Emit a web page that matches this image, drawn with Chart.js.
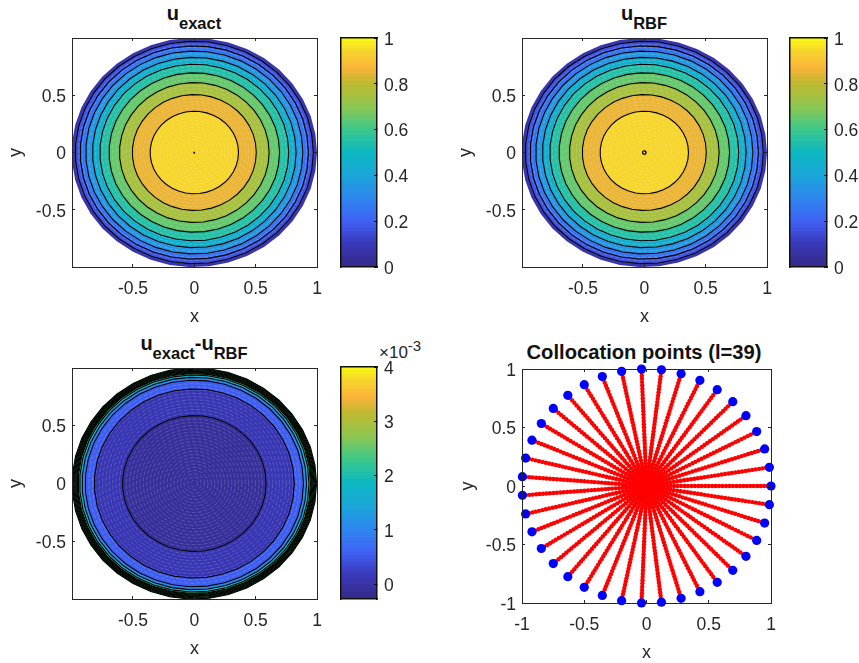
<!DOCTYPE html>
<html>
<head>
<meta charset="utf-8">
<style>
  html, body { margin: 0; padding: 0; background: #fff; }
  body { width: 859px; height: 663px; position: relative; overflow: hidden; font-family: "Liberation Sans", sans-serif; color: #111; }
  canvas { position: absolute; }
  .title { position: absolute; font-weight: bold; font-size: 20px; line-height: 24px; transform: translateX(-50%); white-space: nowrap; }
  .title sub { font-size: 16.5px; vertical-align: -9px; line-height: 0; }
  .exponent { position: absolute; font-size: 17px; line-height: 20px; color: #262626; white-space: nowrap; }
  .exponent sup { font-size: 15px; vertical-align: 7px; line-height: 0; }
</style>
<script src="https://cdn.jsdelivr.net/npm/chart.js@4"></script>
</head>
<body>
<div class="title" style="left:194px;top:1px">u<sub>exact</sub></div>
<div class="title" style="left:644px;top:1px">u<sub>RBF</sub></div>
<div class="title" style="left:194px;top:331px">u<sub>exact</sub>-u<sub>RBF</sub></div>
<div class="title" style="left:644px;top:340px;font-size:20.2px">Collocation points (l=39)</div>
<div class="exponent" style="left:379px;top:343px">×10<sup>-3</sup></div>
<script>
// 39 boundary collocation points, also the outline every contour follows
const boundaryX = [1, 0.987, 0.949, 0.885, 0.799, 0.693, 0.568, 0.429, 0.278, 0.120, -0.040, -0.200, -0.355, -0.5, -0.632, -0.749, -0.845, -0.920, -0.971, -0.997,
  -0.997, -0.971, -0.920, -0.845, -0.749, -0.632, -0.5, -0.355, -0.200, -0.040, 0.120, 0.278, 0.429, 0.568, 0.693, 0.799, 0.885, 0.949, 0.987];
const boundaryY = [0, 0.160, 0.317, 0.465, 0.601, 0.721, 0.823, 0.903, 0.960, 0.993, 0.999, 0.980, 0.935, 0.866, 0.775, 0.663, 0.534, 0.392, 0.239, 0.080,
  -0.080, -0.239, -0.392, -0.534, -0.663, -0.775, -0.866, -0.935, -0.980, -0.999, -0.993, -0.960, -0.903, -0.823, -0.721, -0.601, -0.465, -0.317, -0.160];

// interior nodes along each ray, as a fraction of the radius
const gridRadii = [0.028, 0.056, 0.083, 0.111, 0.139, 0.167, 0.194, 0.222, 0.25, 0.278, 0.306, 0.333, 0.361, 0.389, 0.417, 0.444, 0.472, 0.5,
  0.528, 0.556, 0.583, 0.611, 0.639, 0.667, 0.694, 0.722, 0.75, 0.778, 0.806, 0.833, 0.861, 0.889, 0.917, 0.944, 0.972];

// contour radii, read along the +x axis
const exactRadii = [0.004, 0.36, 0.505, 0.61, 0.695, 0.77, 0.83, 0.885, 0.93, 0.97];
const rbfRadii = [0.015, 0.36, 0.505, 0.61, 0.695, 0.77, 0.83, 0.885, 0.93, 0.97];
const errorRadii = [0.585, 0.815, 0.89, 0.915, 0.935, 0.947, 0.954, 0.961, 0.968, 0.975, 0.982, 0.989, 0.996];

// colour value of the band inside each contour; the last one reaches the boundary
const exactBands = [0.94, 0.94, 0.85, 0.75, 0.65, 0.55, 0.45, 0.35, 0.25, 0.17, 0.08];
const rbfBands = [0.94, 0.94, 0.85, 0.75, 0.65, 0.55, 0.45, 0.35, 0.25, 0.17, 0.08];
const errorBands = [-0.1, 0.11, 0.54, 1.01, 1.65, 2.5, 2.5, 2.5, 2.5, 2.5, 2.5, 2.5, 2.5, 2.5];

const xTicksFull = [-0.5, 0, 0.5, 1];
const yTicksFull = [-0.5, 0, 0.5];
const pointTicks = [-1, -0.5, 0, 0.5, 1];
const unitBarTicks = [0, 0.2, 0.4, 0.6, 0.8, 1];
const errorBarTicks = [0, 1, 2, 3, 4];

// parula-like colormap stops: position, colour
const colorStops = [[0, '#352a87'], [0.1, '#3a38b8'], [0.2, '#3f62f6'], [0.3, '#2e87ef'], [0.4, '#1ba6d8'], [0.5, '#0db8c2'],
  [0.6, '#3cc88a'], [0.7, '#8fc750'], [0.8, '#bfb92f'], [0.87, '#fcb43a'], [0.94, '#f6d52d'], [1, '#f9fb0f']];
const colorSteps = 64;

const inkColor = '#262626';
const tickFont = { family: '"Liberation Sans"', size: 17.5 };

function colorAt(t) {
  t = Math.max(0, Math.min(1, t));
  let i = 0;
  while (i < colorStops.length - 2 && t > colorStops[i + 1][0]) i++;
  const [p0, c0] = colorStops[i];
  const [p1, c1] = colorStops[i + 1];
  const f = (t - p0) / (p1 - p0);
  const mix = n => {
    const a = parseInt(c0.substr(n, 2), 16);
    const b = parseInt(c1.substr(n, 2), 16);
    return Math.round(a + (b - a) * f);
  };
  return `rgb(${mix(1)},${mix(3)},${mix(5)})`;
}

function ringPoints(r) {
  const pts = boundaryX.map((x, i) => ({ x: r * x, y: r * boundaryY[i] }));
  pts.push(pts[0]);
  return pts;
}

function makeCanvas(box, m) {
  const c = document.createElement('canvas');
  c.width = box.w + m.left + m.right;
  c.height = box.h + m.top + m.bottom;
  c.style.left = (box.x - m.left) + 'px';
  c.style.top = (box.y - m.top) + 'px';
  document.body.appendChild(c);
  return c;
}

// keep the plot box where it was placed, whatever the labels measure
function fixBox(s, size) {
  if (s.isHorizontal()) s.height = size; else s.width = size;
  s.paddingTop = s.paddingBottom = s.paddingLeft = s.paddingRight = 0;
}

// one axis; inward tick marks come from a negative tickLength
function axisConfig(axis, position, min, max, ticks, opts = {}) {
  return {
    type: 'linear', axis, position, min, max,
    border: { display: true, color: opts.borderColor || inkColor, width: opts.borderWidth || 1, z: 2 },
    grid: { drawOnChartArea: false, drawTicks: !!ticks, tickLength: -3, tickColor: opts.borderColor || inkColor, z: 1 },
    ticks: {
      display: !!opts.labels,
      autoSkip: false, maxRotation: 0, color: inkColor, font: tickFont,
      padding: opts.padding || 9,
      labelOffset: axis === 'y' ? 2 : 0,
      callback: v => String(v)
    },
    title: opts.title ? { display: true, text: opts.title, color: inkColor, padding: 0, font: { family: '"Liberation Sans"', size: 18 } } : { display: false },
    afterBuildTicks: s => { s.ticks = (ticks || []).map(value => ({ value })); },
    afterFit: s => fixBox(s, opts.size || 0)
  };
}

function plotOptions(m, xMin, xMax, yMin, yMax, xTicks, yTicks) {
  return {
    responsive: false,
    animation: false,
    devicePixelRatio: 1,
    layout: { padding: { top: m.top, right: m.right, bottom: 0, left: 0 } },
    plugins: { legend: { display: false }, tooltip: { enabled: false } },
    elements: { point: { radius: 0 }, line: { tension: 0 } },
    scales: {
      x: axisConfig('x', 'bottom', xMin, xMax, xTicks, { labels: true, title: 'x', size: m.bottom, padding: 15 }),
      y: axisConfig('y', 'left', yMin, yMax, yTicks, { labels: true, title: 'y', size: m.left }),
      xTop: axisConfig('x', 'top', xMin, xMax, xTicks),
      yRight: axisConfig('y', 'right', yMin, yMax, yTicks)
    }
  };
}

// first dataset paints last: contour lines, then mesh seams, then filled bands
function contourPanel(box, radii, bands, toUnit, seamAlpha, xMin, xMax, yMin, yMax) {
  const m = { left: 67, right: 14, top: 8, bottom: 61 };
  const lines = radii.map(r => ({
    data: ringPoints(r), showLine: true, fill: false, borderColor: '#000', borderWidth: 1.1
  }));
  const seams = gridRadii.map(r => ({
    data: ringPoints(r), showLine: true, fill: false, borderColor: `rgba(255,255,255,${seamAlpha})`, borderWidth: 1, borderDash: [4, 2]
  }));
  const fills = radii.concat([1]).map((r, i) => ({
    data: ringPoints(r), showLine: true, fill: 'shape', borderWidth: 0, borderColor: 'transparent',
    backgroundColor: colorAt(toUnit(bands[i]))
  }));
  new Chart(makeCanvas(box, m), {
    type: 'scatter',
    data: { datasets: lines.concat(seams, fills) },
    options: plotOptions(m, xMin, xMax, yMin, yMax, xTicksFull, yTicksFull)
  });
}

function colorbar(box, lo, hi, ticks) {
  const m = { left: 4, right: 46, top: 8, bottom: 8 };
  // each bar runs from the bottom up to its own top edge; lower colours paint over it
  const datasets = [];
  for (let i = 0; i < colorSteps; i++) {
    const top = lo + (hi - lo) * (i + 1) / colorSteps;
    datasets.push({ data: [[lo, top]], backgroundColor: colorAt((i + 0.5) / colorSteps), grouped: false, barPercentage: 1, categoryPercentage: 1 });
  }
  const edge = { borderColor: '#111', borderWidth: 1.5 };
  new Chart(makeCanvas(box, m), {
    type: 'bar',
    data: { labels: [''], datasets },
    options: {
      responsive: false,
      animation: false,
      devicePixelRatio: 1,
      layout: { padding: { top: m.top, right: 0, bottom: 0, left: m.left } },
      plugins: { legend: { display: false }, tooltip: { enabled: false } },
      scales: {
        x: {
          type: 'category', position: 'bottom',
          border: { display: true, color: edge.borderColor, width: edge.borderWidth, z: 2 },
          grid: { display: false }, ticks: { display: false },
          afterFit: s => fixBox(s, m.bottom)
        },
        y: axisConfig('y', 'right', lo, hi, ticks, Object.assign({ labels: true, size: m.right, padding: 10 }, edge)),
        xTop: axisConfig('x', 'top', 0, 1, null, edge),
        yLeft: axisConfig('y', 'left', lo, hi, null, edge)
      }
    }
  });
}

function collocationPanel(box) {
  const m = { left: 65, right: 14, top: 8, bottom: 61 };
  const nodes = [];
  boundaryX.forEach((bx, i) => {
    gridRadii.forEach(r => nodes.push({ x: r * bx, y: r * boundaryY[i] }));
  });
  nodes.push({ x: 0, y: 0 });
  const edgePts = boundaryX.map((x, i) => ({ x, y: boundaryY[i] }));
  new Chart(makeCanvas(box, m), {
    type: 'scatter',
    data: {
      datasets: [
        { data: edgePts, pointRadius: 4.6, pointBackgroundColor: '#0000ff', pointBorderWidth: 0, clip: false },
        { data: nodes, pointRadius: 2.2, pointBackgroundColor: '#ff0000', pointBorderWidth: 0, clip: false }
      ]
    },
    options: plotOptions(m, -1, 1, -1, 1, pointTicks, pointTicks)
  });
}

const unit = v => v;
const errorUnit = v => (v + 0.27) / 4.27;

contourPanel({ x: 72, y: 38, w: 245, h: 229 }, exactRadii, exactBands, unit, 0.18, -0.997, 1, -0.9985, 0.9985);
colorbar({ x: 341, y: 38, w: 36, h: 229 }, 0, 1, unitBarTicks);

contourPanel({ x: 522, y: 38, w: 245, h: 229 }, rbfRadii, rbfBands, unit, 0.18, -0.997, 1, -0.9985, 0.9985);
colorbar({ x: 790, y: 38, w: 37, h: 229 }, 0, 1, unitBarTicks);

contourPanel({ x: 72, y: 368, w: 245, h: 231 }, errorRadii, errorBands, errorUnit, 0.17, -0.997, 1, -0.995, 0.995);
colorbar({ x: 341, y: 367, w: 36, h: 232 }, -0.27, 4, errorBarTicks);

collocationPanel({ x: 522, y: 369, w: 249, h: 234 });
</script>
</body>
</html>
